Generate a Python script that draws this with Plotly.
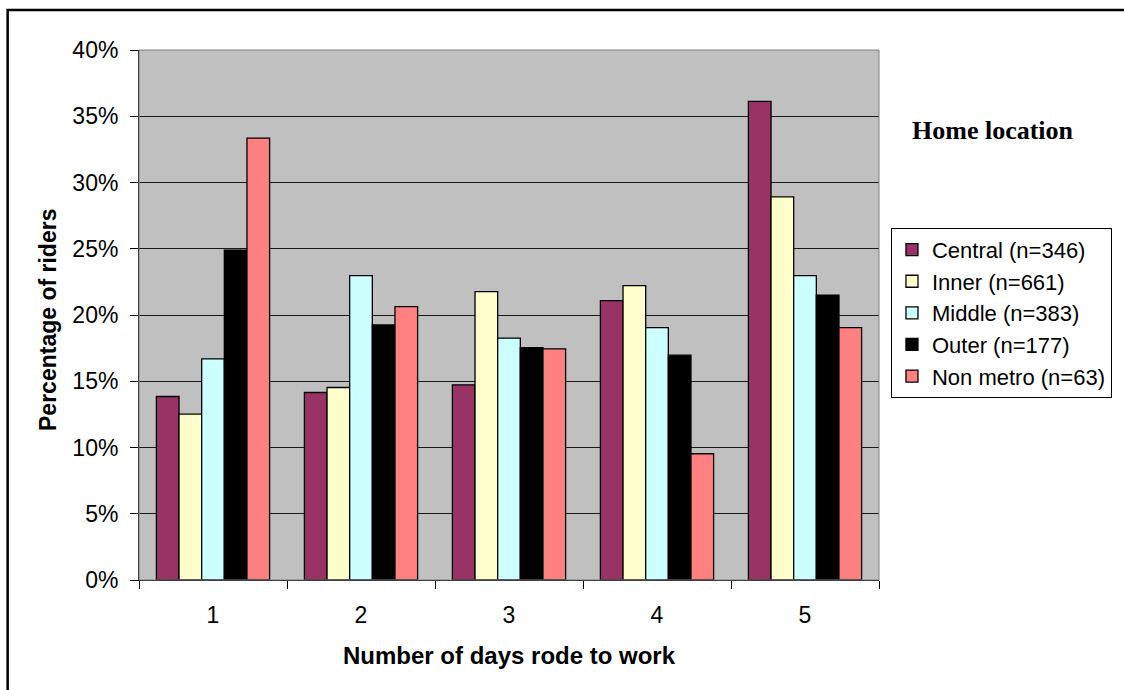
import plotly.graph_objects as go

# Number of days per week the respondent rode to work
days = ["1", "2", "3", "4", "5"]

# Percentage of riders in each home-location group
central = [13.85, 14.15, 14.73, 21.09, 36.13]
inner = [12.52, 14.53, 21.76, 22.22, 28.92]
middle = [16.69, 22.97, 18.25, 19.05, 22.97]
outer = [24.90, 19.25, 17.54, 16.97, 21.49]
non_metro = [33.35, 20.63, 17.44, 9.53, 19.05]

series_names = ["Central (n=346)", "Inner (n=661)", "Middle (n=383)",
                "Outer (n=177)", "Non metro (n=63)"]
series_colors = ["#993366", "#FFFFCC", "#CCFFFF", "#000000", "#FF8080"]
series_values = [central, inner, middle, outer, non_metro]

W, H = 1124, 690
L, R, T, B = 139, 881, 50, 580.5  # plot area in pixels


def px_x(x):
    return (x - L) / (R - L)


def px_y(y):
    return (B - y) / (B - T)


fig = go.Figure()
for name, color, vals in zip(series_names, series_colors, series_values):
    fig.add_trace(go.Bar(
        x=days, y=vals, name=name,
        marker=dict(color=color, line=dict(color="#000000", width=1.3)),
    ))

font_sans = "Liberation Sans, Arial, sans-serif"

fig.update_layout(
    width=W, height=H,
    margin=dict(l=L, r=W - R, t=T, b=H - B),
    paper_bgcolor="#FFFFFF",
    plot_bgcolor="#C0C0C0",
    barmode="group",
    bargap=0.235,
    bargroupgap=0,
    font=dict(family=font_sans, size=23, color="#000000"),
    showlegend=True,
    legend=dict(
        x=px_x(893), y=px_y(228), xanchor="left", yanchor="top",
        bgcolor="#FFFFFF", bordercolor="#000000", borderwidth=1,
        font=dict(family=font_sans, size=22, color="#000000"),
        itemwidth=30, tracegroupgap=0,
    ),
    xaxis=dict(
        type="category",
        showline=True, linecolor="#000000", linewidth=1,
        ticks="outside", ticklen=8, tickcolor="#000000",
        tickson="boundaries",
        showgrid=False,
        tickfont=dict(size=23),
        ticklabelstandoff=14,
    ),
    yaxis=dict(
        range=[0, 40], dtick=5, ticksuffix="%",
        showline=True, linecolor="#000000", linewidth=1,
        ticks="outside", ticklen=8, tickcolor="#000000",
        showgrid=True, gridcolor="#1a1a1a", gridwidth=1,
        zeroline=False,
        tickfont=dict(size=23),
        ticklabelstandoff=7,
    ),
    annotations=[
        dict(text="<b>Number of days rode to work</b>", xref="paper", yref="paper",
             x=0.5, y=px_y(656), xanchor="center", yanchor="middle",
             showarrow=False, font=dict(family=font_sans, size=24)),
        dict(text="<b>Percentage of riders</b>", xref="paper", yref="paper",
             x=px_x(47), y=px_y(320), xanchor="center", yanchor="middle",
             textangle=-90, showarrow=False, font=dict(family=font_sans, size=23)),
        dict(text="<b>Home location</b>", xref="paper", yref="paper",
             x=px_x(995), y=px_y(131), xanchor="center", yanchor="middle",
             showarrow=False,
             font=dict(family="Liberation Serif, Times New Roman, serif", size=26)),
    ],
    shapes=[
        # grey border round the plotting area
        dict(type="rect", xref="paper", yref="paper", x0=0, x1=1, y0=0, y1=1,
             line=dict(color="#808080", width=1), layer="above"),
        # outer chart frame
        dict(type="rect", xref="paper", yref="paper",
             x0=px_x(7.3), x1=px_x(1140), y0=px_y(705), y1=px_y(10),
             line=dict(color="#000000", width=2.5), layer="above"),
    ],
)

fig.write_html("out.html")
